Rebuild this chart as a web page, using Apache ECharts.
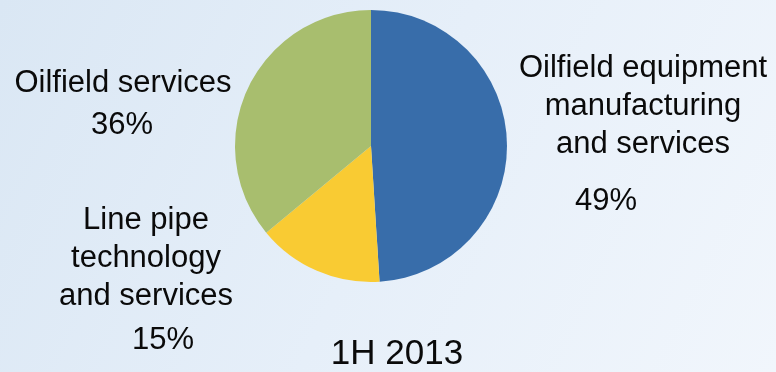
<!DOCTYPE html>
<html>
<head>
<meta charset="utf-8">
<style>
html,body{margin:0;padding:0;}
#chart{width:776px;height:372px;}
</style>
<script src="https://cdn.jsdelivr.net/npm/echarts@6/dist/echarts.min.js"></script>
</head>
<body>
<div id="chart"></div>
<script>
const categories = ['Oilfield equipment\nmanufacturing\nand services', 'Line pipe\ntechnology\nand services', 'Oilfield services'];
const values = [49, 15, 36];
const colors = ['#386DAA', '#F9CB33', '#A8BE6E'];
const title = '1H 2013';

const chart = echarts.init(document.getElementById('chart'));
const font = '"Liberation Sans", Arial, sans-serif';
const nameLabelPos = [[643, 106], [146, 258], [123, 83]];
const pctLabelPos = [[606, 201], [163, 340], [122, 125]];

const graphics = [];
categories.forEach((c, i) => {
  graphics.push({type: 'text', x: nameLabelPos[i][0], y: nameLabelPos[i][1], z: 10,
    style: {text: c, fill: '#0a0a0a', font: '31px ' + font, textAlign: 'center', textVerticalAlign: 'middle', lineHeight: 38}});
  graphics.push({type: 'text', x: pctLabelPos[i][0], y: pctLabelPos[i][1], z: 10,
    style: {text: values[i] + '%', fill: '#0a0a0a', font: '31px ' + font, textAlign: 'center', textVerticalAlign: 'middle'}});
});
graphics.push({type: 'text', x: 397, y: 354, z: 10,
  style: {text: title, fill: '#0a0a0a', font: '35px ' + font, textAlign: 'center', textVerticalAlign: 'middle'}});

chart.setOption({
  backgroundColor: {
    type: 'linear', x: 0, y: 0, x2: 1, y2: 1,
    colorStops: [{offset: 0, color: '#DAE7F4'}, {offset: 0.5, color: '#E6EFF9'}, {offset: 1, color: '#F1F6FC'}]
  },
  animation: false,
  graphic: graphics,
  series: [{
    type: 'pie',
    center: [371, 146],
    radius: 136,
    startAngle: 90,
    clockwise: true,
    label: {show: false},
    labelLine: {show: false},
    itemStyle: {borderWidth: 0},
    data: categories.map((c, i) => ({name: c, value: values[i], itemStyle: {color: colors[i]}}))
  }]
});
</script>
</body>
</html>
